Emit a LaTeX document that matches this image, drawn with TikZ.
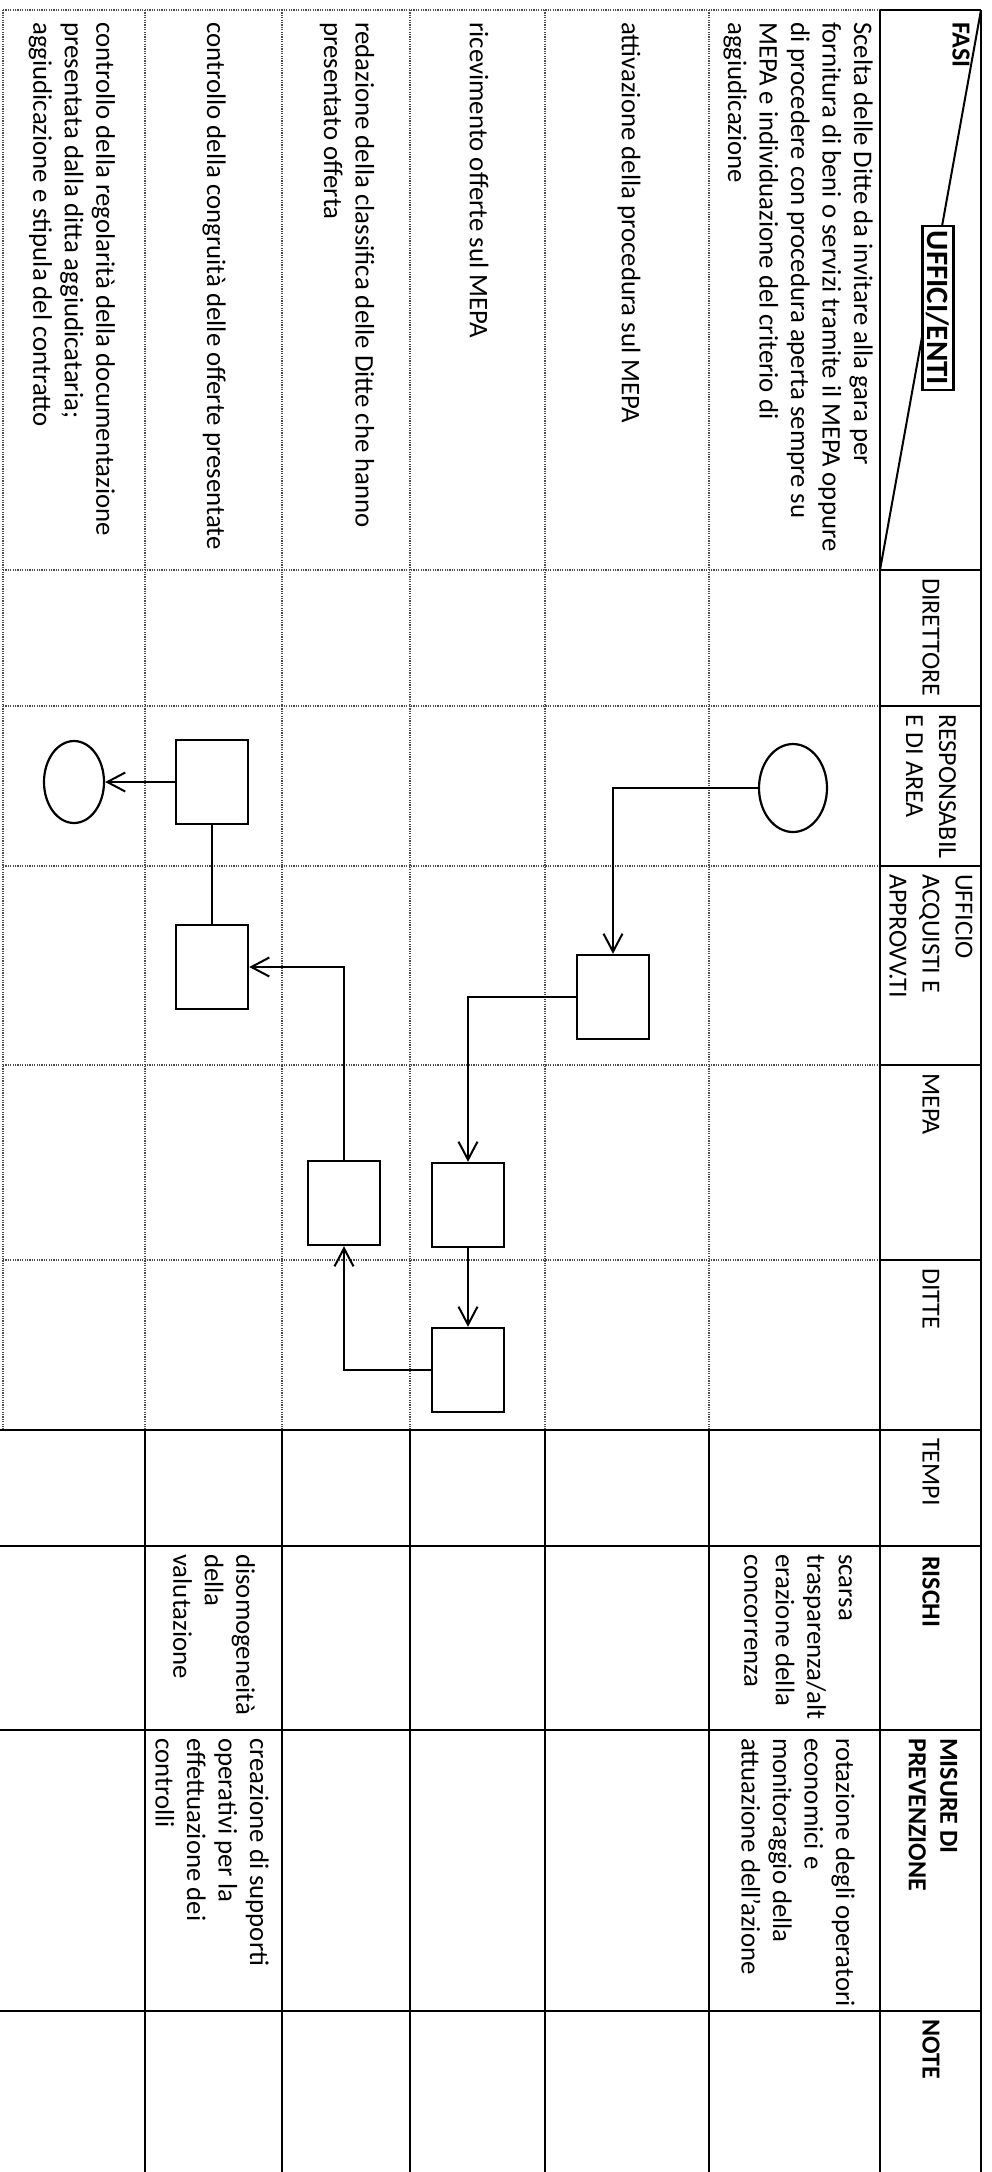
\documentclass[tikz,border=0pt]{standalone}
\usepackage{fontspec}
\setmainfont{Carlito}
\usetikzlibrary{arrows.meta,shapes.geometric}
\begin{document}
\begin{tikzpicture}[x=1pt,y=-1pt,
  solidline/.style={line width=2.4pt, black},
  dotline/.style={line width=1.6pt, black!70, dash pattern=on 1.2pt off 1.2pt},
  txt/.style={rotate=-90, anchor=west, align=left, inner sep=0pt, font=\fontsize{26.8}{31.5}\selectfont},
  hdr/.style={rotate=-90, anchor=west, align=left, inner sep=0pt, font=\fontsize{26}{33}\selectfont},
  bhdr/.style={rotate=-90, anchor=west, align=left, inner sep=0pt, font=\bfseries\fontsize{26}{31.5}\selectfont},
  actbox/.style={draw, line width=2.4pt, minimum width=72pt, minimum height=84pt, inner sep=0pt},
  term/.style={draw, ellipse, line width=2.2pt, inner sep=0pt},
  conn/.style={line width=2pt},
  arr/.style={conn, -{Straight Barb[length=18pt,width=19pt,line width=2pt]}}
]
\useasboundingbox (0,0) rectangle (991,2172);
\fill[white] (0,0) rectangle (991,2172);

% ---- grid, upper (dotted) part
\foreach \x in {3,145,282,410,545,709} \draw[dotline] (\x,10) -- (\x,1430);
\foreach \y in {10,570,706,866,1065,1260} \draw[dotline] (3,\y) -- (880,\y);
% ---- header column
\draw[solidline] (880,10) -- (880,2172);
\draw[solidline] (981,10) -- (981,2172);
\foreach \y in {10,570,706,866,1065,1260} \draw[solidline] (880,\y) -- (981,\y);
% ---- grid, lower (solid) part
\foreach \y in {1430,1546,1730,2011} \draw[solidline] (0,\y) -- (981,\y);
\foreach \x in {145,282,410,545,709} \draw[solidline] (\x,1430) -- (\x,2172);

% ---- diagonal header cell
\draw[line width=2pt] (981,10) -- (880,570);
\node[bhdr] (fasi) at (961,22) {FASI};
\node[draw, fill=white, line width=2.2pt, rotate=-90, inner xsep=5pt, inner ysep=4pt,
      font=\bfseries\fontsize{31}{36}\selectfont] (uffenti) at (938,308) {UFFICI/ENTI};

% ---- header labels
\node[hdr] (hdir) at (931,578) {DIRETTORE};
\node[hdr] (hresp) at (931,714) {RESPONSABIL\\E DI AREA};
\node[hdr] (huff) at (931,874) {UFFICIO\\ACQUISTI E\\APPROVV.TI};
\node[hdr] (hmepa) at (931,1073) {MEPA};
\node[hdr] (hditte) at (931,1268) {DITTE};
\node[hdr] (htempi) at (931,1438) {TEMPI};
\node[bhdr] (hrischi) at (931,1556) {RISCHI};
\node[bhdr] (hmisure) at (933,1738) {MISURE DI\\PREVENZIONE};
\node[bhdr] (hnote) at (931,2019) {NOTE};

% ---- phases
\node[txt] (f1) at (798,22) {Scelta delle Ditte da invitare alla gara per\\fornitura di beni o servizi tramite il MEPA oppure\\di procedere con procedura aperta sempre su\\MEPA e individuazione del criterio di\\aggiudicazione};
\node[txt] (f2) at (629,22) {attivazione della procedura sul MEPA};
\node[txt] (f3) at (479,22) {ricevimento offerte sul MEPA};
\node[txt] (f4) at (347,22) {redazione della classifica delle Ditte che hanno\\presentato offerta};
\node[txt] (f5) at (214,22) {controllo della congruità delle offerte presentate};
\node[txt] (f6) at (72,22) {controllo della regolarità della documentazione\\presentata dalla ditta aggiudicataria;\\aggiudicazione e stipula del contratto};

% ---- risks and measures
\node[txt] (r1) at (798,1554) {scarsa\\trasparenza/alt\\erazione della\\concorrenza};
\node[txt] (r5) at (214,1554) {disomogeneità\\della\\valutazione};
\node[txt] (m1) at (798,1738) {rotazione degli operatori\\economici e\\monitoraggio della\\attuazione dell'azione};
\node[txt] (m5) at (212,1738) {creazione di supporti\\operativi per la\\effettuazione dei\\controlli};

% ---- flow
\node[term, minimum width=68pt, minimum height=88pt] (e1) at (793,788) {};
\node[term, minimum width=60pt, minimum height=82pt] (e2) at (74,782) {};
\node[actbox] (A) at (212,782) {};
\node[actbox] (B) at (212,967) {};
\node[actbox] (C) at (613,997) {};
\node[actbox] (D) at (344,1203) {};
\node[actbox] (E) at (468,1205) {};
\node[actbox] (F) at (468,1370) {};

\draw[arr] (e1.west) -| (C.north);
\draw[arr] (C.west) -| (E.north);
\draw[arr] (E.south) -- (F.north);
\draw[arr] (F.west) -| (D.south);
\draw[arr] (D.north) |- (B.east);
\draw[conn] (B.north) -- (A.south);
\draw[arr] (A.west) -- (e2.east);
\end{tikzpicture}
\end{document}
